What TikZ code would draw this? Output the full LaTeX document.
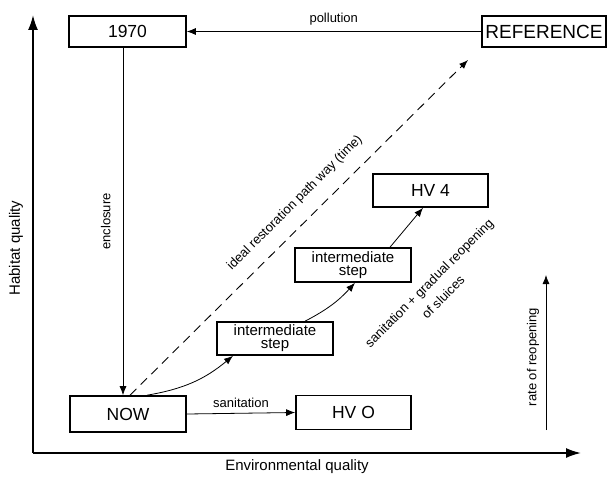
\documentclass[tikz,border=0pt]{standalone}
\usepackage{fontspec}
\setmainfont{Liberation Sans}
\usetikzlibrary{arrows.meta}
\tikzset{
  box/.style={draw, line width=1.6pt, inner sep=0pt, font=\fontsize{17.5}{20}\selectfont},
  stepbox/.style={box, align=center, font=\fontsize{15}{13}\selectfont},
  lbl/.style={font=\fontsize{13}{15}\selectfont, inner sep=0pt},
  axlbl/.style={font=\fontsize{15}{17}\selectfont, inner sep=0pt},
  arr/.style={line width=0.8pt, -{Latex[length=9pt,width=7pt]}},
  axis/.style={line width=1.8pt, -{Latex[length=15pt,width=10pt]}},
}
\begin{document}
\begin{tikzpicture}[x=1pt,y=-1pt]
\useasboundingbox (0,0) rectangle (609,476);
% axes
\coordinate (origin) at (33,453);
\coordinate (ytip) at (33,15);
\coordinate (xtip) at (581,453);
\draw[axis] (origin) -- (ytip);
\draw[axis] (origin) -- (xtip);
\node[axlbl, rotate=90] (ylab) at (16,248) {Habitat quality};
\node[axlbl] (xlab) at (297,467) {Environmental quality};
% boxes
\node[box, minimum width=117pt, minimum height=31pt] (n1970) at (127.5,31.5) {1970};
\node[box, line width=2.6pt, minimum width=124pt, minimum height=31pt, font=\fontsize{19}{21}\selectfont] (ref) at (544,31.5) {REFERENCE};
\node[box, minimum width=115pt, minimum height=33pt] (hv4) at (430.5,190.5) {HV 4};
\node[stepbox, minimum width=116pt, minimum height=34pt] (step2) at (353,265) {intermediate\\step};
\node[stepbox, minimum width=116pt, minimum height=33pt] (step1) at (275,338.5) {intermediate\\step};
\node[box, minimum width=115pt, minimum height=34pt] (hvo) at (353.5,412.5) {HV O};
\node[box, minimum width=116pt, minimum height=36pt] (now) at (128,414) {NOW};
% connectors
\draw[arr] (ref.west) -- (n1970.east) node[lbl, midway, above=6pt] {pollution};
\coordinate (encx) at (123,0);
\draw[arr] (n1970.south -| encx) -- (now.north -| encx) node[lbl, pos=0.5, rotate=90, above=12pt] {enclosure};
\draw[arr] (now.east) -- (hvo.west) node[lbl, midway, above=5pt] {sanitation};
\coordinate (idealend) at (468,60);
\draw[line width=0.9pt, dash pattern=on 9pt off 6pt, -{Latex[length=9pt,width=7pt]}] ([xshift=2pt]now.north) -- (idealend);
\node[lbl, rotate=45] (ideallab) at (295,203) {ideal restoration path way (time)};
\draw[arr] ([xshift=19pt]now.north) to[bend right=15] ([xshift=-42pt]step1.south);
\draw[arr] ([xshift=30pt]step1.north) to[bend right=10] ([xshift=2pt]step2.south);
\draw[arr] ([xshift=37pt]step2.north) -- ([xshift=-7.5pt]hv4.south);
\node[lbl, rotate=45, align=center, font=\fontsize{13}{20}\selectfont] (sanlab) at (436,290) {sanitation + gradual reopening\\of sluices};
% rate of reopening
\coordinate (rbot) at (546,430);
\coordinate (rtop) at (546,275);
\draw[arr] (rbot) -- (rtop);
\node[lbl, rotate=90] (ratelab) at (533,357) {rate of reopening};
\end{tikzpicture}
\end{document}
